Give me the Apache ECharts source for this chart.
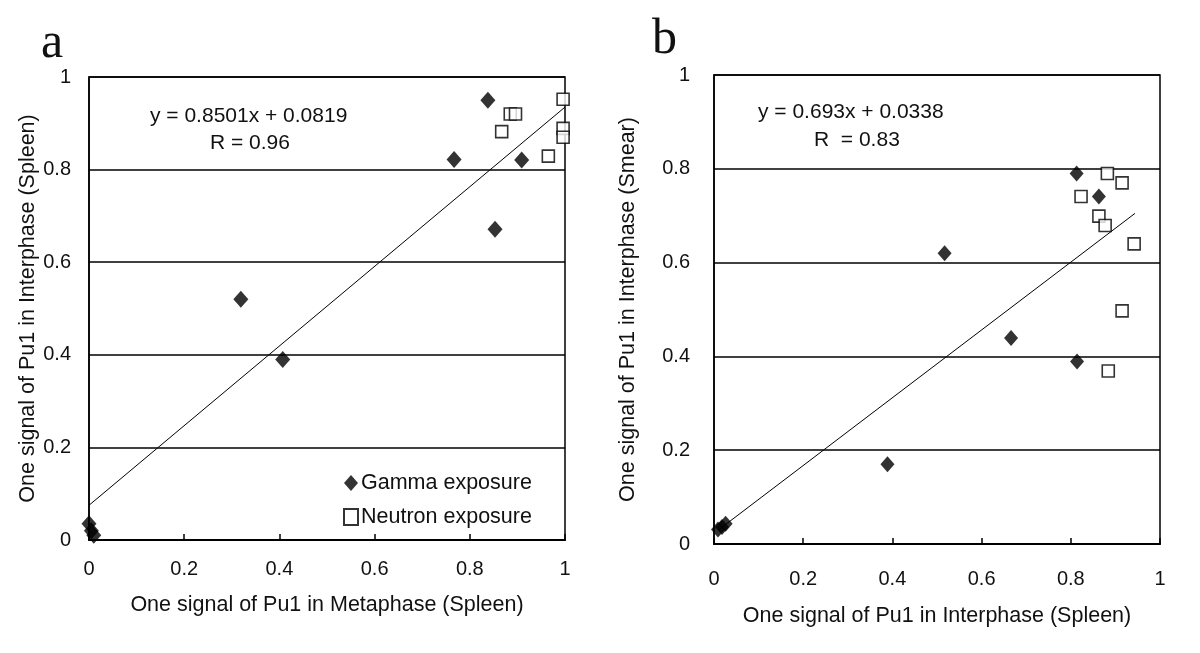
<!DOCTYPE html>
<html>
<head>
<meta charset="utf-8">
<script src="https://cdn.jsdelivr.net/npm/echarts@6/dist/echarts.min.js"></script>
<style>
html,body{margin:0;padding:0;background:#fff;}
#chart{width:1200px;height:653px;}
</style>
</head>
<body>
<div id="chart"></div>
<script>
// ---- data ----
const tickLabels = ['0', '0.2', '0.4', '0.6', '0.8', '1'];

// Panel a: Metaphase (x) vs Interphase (y), spleen
const gammaA = [[0.838,0.95],[0.767,0.822],[0.909,0.821],[0.853,0.671],[0.319,0.52],[0.407,0.39],[0.0,0.035],[0.005,0.02],[0.01,0.01]];
const neutronA = [[0.885,0.92],[0.896,0.92],[0.867,0.882],[0.965,0.829],[0.996,0.952],[0.996,0.889],[0.996,0.87]];
const trendA = [[0,0.075],[1,0.935]];
const eqA = ['y = 0.8501x + 0.0819', 'R = 0.96'];

// Panel b: Interphase spleen (x) vs Interphase smear (y)
const gammaB = [[0.813,0.79],[0.863,0.741],[0.517,0.62],[0.666,0.439],[0.814,0.389],[0.389,0.17],[0.009,0.031],[0.018,0.036],[0.026,0.043]];
const neutronB = [[0.882,0.79],[0.915,0.77],[0.823,0.741],[0.863,0.699],[0.877,0.679],[0.942,0.64],[0.915,0.497],[0.884,0.369]];
const trendB = [[0.01,0.03],[0.944,0.705]];
const eqB = ['y = 0.693x + 0.0338', 'R  = 0.83'];

const xNames = ['One signal of Pu1 in Metaphase (Spleen)', 'One signal of Pu1 in Interphase (Spleen)'];
const yNames = ['One signal of Pu1 in Interphase (Spleen)', 'One signal of Pu1 in Interphase (Smear)'];
const panelLetters = ['a', 'b'];
const seriesNames = ['Gamma exposure', 'Neutron exposure'];

// ---- chart ----
const FONT = 'Liberation Sans';
const FS = 20;
const NFS = 21.5;
const EFS = 21;
const fmt = v => { const i = Math.round(v / 0.2); return tickLabels[i] !== undefined ? tickLabels[i] : ''; };

const grids = [
  {left: 89, top: 77, width: 476, height: 463},
  {left: 714, top: 75, width: 446, height: 469}
];
const xLabelMargin = [19, 25];
const yLabelMargin = [18, 24];
const xNameGap = [54, 61];
const yNameGap = [50, 75];

const chart = echarts.init(document.getElementById('chart'), null, {renderer: 'canvas'});

const option = {
  backgroundColor: '#fff',
  animation: false,
  textStyle: {fontFamily: FONT},
  grid: grids.map(g => Object.assign({show: true, borderColor: '#000', borderWidth: 1.5, backgroundColor: 'transparent'}, g)),
  xAxis: [0, 1].map(i => ({
    type: 'value', gridIndex: i, min: 0, max: 1, interval: 0.2,
    name: xNames[i], nameLocation: 'middle', nameGap: xNameGap[i],
    nameTextStyle: {fontFamily: FONT, fontSize: NFS, color: '#111'},
    axisLine: {show: true, lineStyle: {color: '#000', width: 2}},
    axisTick: {show: true, inside: true, length: 6, lineStyle: {color: '#000', width: 1.5}},
    axisLabel: {formatter: fmt, margin: xLabelMargin[i], fontFamily: FONT, fontSize: FS, color: '#111'},
    splitLine: {show: false}
  })),
  yAxis: [0, 1].map(i => ({
    type: 'value', gridIndex: i, min: 0, max: 1, interval: 0.2,
    name: yNames[i], nameLocation: 'middle', nameGap: yNameGap[i],
    nameTextStyle: {fontFamily: FONT, fontSize: NFS, color: '#111'},
    axisLine: {show: true, lineStyle: {color: '#000', width: 1.5}},
    axisTick: {show: false},
    axisLabel: {formatter: fmt, margin: yLabelMargin[i], fontFamily: FONT, fontSize: FS, color: '#111'},
    splitLine: {show: true, lineStyle: {color: '#000', width: 1.5}}
  })),
  legend: {
    orient: 'vertical', left: 338, top: 467,
    itemWidth: 14, itemHeight: 16, itemGap: 12,
    data: seriesNames,
    textStyle: {fontFamily: FONT, fontSize: NFS, color: '#111', padding: [0, 0, 0, -2]},
    selectedMode: false
  },
  series: [
    {type: 'line', xAxisIndex: 0, yAxisIndex: 0, data: trendA, showSymbol: false, symbol: 'none',
     lineStyle: {color: '#000', width: 1}, z: 1, silent: true},
    {type: 'line', xAxisIndex: 1, yAxisIndex: 1, data: trendB, showSymbol: false, symbol: 'none',
     lineStyle: {color: '#000', width: 1}, z: 1, silent: true},
    {name: seriesNames[0], type: 'scatter', xAxisIndex: 0, yAxisIndex: 0, data: gammaA,
     symbol: 'diamond', symbolSize: [15, 17], itemStyle: {color: '#000'}, z: 3},
    {name: seriesNames[1], type: 'scatter', xAxisIndex: 0, yAxisIndex: 0, data: neutronA,
     symbol: 'rect', symbolSize: 12, itemStyle: {color: '#fff', borderColor: '#000', borderWidth: 1.6}, z: 2},
    {name: seriesNames[0], type: 'scatter', xAxisIndex: 1, yAxisIndex: 1, data: gammaB,
     symbol: 'diamond', symbolSize: [14, 16], itemStyle: {color: '#000'}, z: 3},
    {name: seriesNames[1], type: 'scatter', xAxisIndex: 1, yAxisIndex: 1, data: neutronB,
     symbol: 'rect', symbolSize: 12, itemStyle: {color: '#fff', borderColor: '#000', borderWidth: 1.6}, z: 2}
  ],
  graphic: [
    {type: 'text', left: 41, top: 19, style: {text: panelLetters[0], font: '50px "Liberation Serif"', fill: '#111'}},
    {type: 'text', left: 652, top: 15, style: {text: panelLetters[1], font: '50px "Liberation Serif"', fill: '#111'}},
    {type: 'text', left: 150, top: 106, style: {text: eqA[0], font: EFS + 'px "' + FONT + '"', fill: '#111'}},
    {type: 'text', left: 210, top: 133, style: {text: eqA[1], font: EFS + 'px "' + FONT + '"', fill: '#111'}},
    {type: 'text', left: 758, top: 102, style: {text: eqB[0], font: EFS + 'px "' + FONT + '"', fill: '#111'}},
    {type: 'text', left: 814, top: 130, style: {text: eqB[1], font: EFS + 'px "' + FONT + '"', fill: '#111'}}
  ]
};
chart.setOption(option);
</script>
</body>
</html>
